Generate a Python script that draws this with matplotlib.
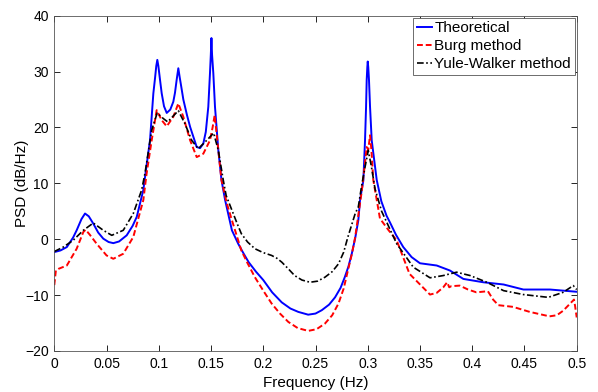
import matplotlib
matplotlib.use("Agg")
import matplotlib.pyplot as plt

plt.rcParams['font.family'] = ['Liberation Sans', 'DejaVu Sans']

theo_f = [0.000, 0.006, 0.012, 0.018, 0.0214, 0.026, 0.0294, 0.033, 0.0373, 0.042,
          0.0469, 0.052, 0.0565, 0.062, 0.0693, 0.075, 0.0789, 0.0852, 0.0868, 0.0916,
          0.0948, 0.0964, 0.0976, 0.0986, 0.0996, 0.1012, 0.1028, 0.105, 0.1076, 0.111,
          0.1139, 0.1155, 0.1171, 0.1187, 0.1200, 0.1216, 0.1235, 0.127, 0.130, 0.1363,
          0.1395, 0.1426, 0.145, 0.1474, 0.1490, 0.1498, 0.1504, 0.1510, 0.1522, 0.1538,
          0.157, 0.160, 0.1635, 0.170, 0.176, 0.181, 0.186, 0.193, 0.200, 0.2085,
          0.2177, 0.226, 0.2335, 0.243, 0.250, 0.256, 0.263, 0.2687, 0.274, 0.278,
          0.2815, 0.2847, 0.288, 0.291, 0.2926, 0.2958, 0.2974, 0.2984, 0.2990, 0.2996,
          0.300, 0.3005, 0.3012, 0.3022, 0.3038, 0.3086, 0.313, 0.318, 0.3213, 0.327,
          0.334, 0.342, 0.350, 0.366, 0.3787, 0.3915, 0.4106, 0.430, 0.449, 0.4744,
          0.500]
theo_v = [-2.3, -2.0, -1.4, 0.3, 1.6, 3.6, 4.6, 4.1, 2.8, 1.2,
          0.1, -0.5, -0.7, -0.4, 0.7, 2.4, 4.0, 8.8, 11.1, 17.7,
          26.1, 28.8, 31.0, 32.1, 31.0, 28.5, 26.1, 23.8, 22.6, 23.2,
          24.6, 26.2, 28.5, 30.6, 29.0, 27.2, 25.0, 22.2, 20.1, 16.5,
          16.3, 17.1, 19.2, 23.7, 29.7, 33.0, 36.0, 33.0, 29.7, 23.7,
          15.9, 10.6, 7.0, 1.6, -0.8, -2.5, -4.1, -5.8, -7.3, -9.5,
          -11.3, -12.4, -13.0, -13.5, -13.3, -12.7, -11.7, -10.4, -8.7, -6.8,
          -4.9, -2.6, 0.2, 3.4, 7.0, 10.5, 17.7, 23.7, 28.5, 30.8,
          31.8, 30.8, 28.5, 23.7, 17.7, 10.6, 6.8, 4.2, 3.0, 0.8,
          -1.4, -3.2, -4.3, -4.7, -5.6, -7.1, -7.7, -8.1, -9.0, -9.0,
          -9.4]

burg_f = [0.000, 0.0015, 0.004, 0.012, 0.0214, 0.0278, 0.030, 0.034, 0.0405, 0.050,
          0.0565, 0.066, 0.0756, 0.0852, 0.0884, 0.0932, 0.098, 0.1028, 0.1076, 0.1139,
          0.1187, 0.1235, 0.130, 0.1363, 0.1426, 0.149, 0.1515, 0.1535, 0.156, 0.160,
          0.165, 0.170, 0.175, 0.179, 0.185, 0.192, 0.200, 0.208, 0.216, 0.224,
          0.233, 0.243, 0.251, 0.259, 0.266, 0.272, 0.277, 0.281, 0.285, 0.288,
          0.2942, 0.297, 0.299, 0.3005, 0.3022, 0.3035, 0.3053, 0.3117, 0.320, 0.3277,
          0.340, 0.3596, 0.366, 0.3723, 0.376, 0.378, 0.380, 0.388, 0.396, 0.404,
          0.415, 0.420, 0.425, 0.439, 0.455, 0.474, 0.481, 0.487, 0.4974, 0.4985,
          0.500]
burg_v = [-8.2, -5.6, -5.3, -4.7, -1.7, 1.3, 1.7, 0.8, -0.8, -2.9,
          -3.5, -2.6, 0.4, 7.0, 11.8, 17.7, 23.1, 21.3, 20.2, 21.9,
          24.3, 21.9, 17.7, 14.7, 15.3, 17.7, 20.0, 22.2, 17.7, 10.6,
          6.5, 3.4, 0.4, -2.0, -4.3, -6.8, -9.2, -11.5, -13.3, -14.8,
          -15.9, -16.4, -16.1, -15.1, -13.6, -11.5, -8.8, -5.6, -2.5, 0.4,
          8.5, 13.0, 16.5, 16.0, 18.6, 16.0, 10.6, 3.7, 1.6, -0.2,
          -6.2, -9.9, -9.6, -8.6, -7.7, -8.6, -8.4, -8.3, -9.0, -9.5,
          -9.3, -10.8, -11.8, -12.1, -13.0, -13.8, -13.6, -12.8, -10.8, -12.0,
          -14.0]

yw_f = [0.000, 0.0086, 0.018, 0.0278, 0.0373, 0.0469, 0.055, 0.066, 0.0756, 0.0836,
        0.0868, 0.0932, 0.0985, 0.1043, 0.1085, 0.1187, 0.125, 0.1315, 0.1378, 0.1459,
        0.1525, 0.157, 0.1617, 0.1645, 0.170, 0.175, 0.179, 0.185, 0.192, 0.200,
        0.208, 0.213, 0.2177, 0.224, 0.230, 0.237, 0.2447, 0.252, 0.259, 0.266,
        0.272, 0.277, 0.281, 0.288, 0.291, 0.294, 0.2975, 0.3005, 0.3035, 0.307,
        0.3133, 0.3277, 0.3436, 0.3596, 0.3723, 0.385, 0.398, 0.414, 0.430, 0.449,
        0.4728, 0.487, 0.4967, 0.500]
yw_v = [-2.2, -1.4, -0.2, 1.6, 2.9, 1.6, 0.7, 1.6, 4.6, 8.8,
        11.8, 19.5, 22.6, 21.6, 21.0, 23.0, 20.7, 17.7, 16.2, 17.7,
        19.0, 15.9, 10.6, 7.8, 5.2, 2.8, 1.0, -0.5, -1.7, -2.4,
        -2.9, -3.4, -4.1, -5.3, -6.5, -7.3, -7.7, -7.5, -6.8, -5.8,
        -4.4, -2.3, 0.4, 4.6, 5.8, 9.4, 13.0, 15.9, 13.0, 9.0,
        5.0, -0.8, -5.0, -6.9, -6.5, -5.9, -6.5, -7.7, -9.2, -9.9,
        -10.4, -9.5, -8.3, -9.0]

labels = ['Theoretical', 'Burg method', 'Yule-Walker method']
xticks = [0, 0.05, 0.1, 0.15, 0.2, 0.25, 0.3, 0.35, 0.4, 0.45, 0.5]
xticklabels = ['0', '0.05', '0.1', '0.15', '0.2', '0.25', '0.3', '0.35', '0.4', '0.45', '0.5']
yticks = [-20, -10, 0, 10, 20, 30, 40]

fig = plt.figure(figsize=(5.98, 3.92), dpi=100)
ax = fig.add_axes([54.3 / 598, 1 - 351 / 392, (576.7 - 54.3) / 598, (351 - 15.7) / 392])

ax.plot(theo_f, theo_v, color='#0000ff', lw=1.4, label=labels[0])
ax.plot(burg_f, burg_v, color='#ff0000', lw=1.4, ls=(0, (3, 1.5)), label=labels[1])
ax.plot(yw_f, yw_v, color='black', lw=1.2, ls=(0, (4, 1.5, 1, 1.5)), label=labels[2])

ax.set_xlim(0, 0.5)
ax.set_ylim(-20, 40)
ax.set_xticks(xticks)
ax.set_xticklabels(xticklabels)
ax.set_yticks(yticks)
ax.tick_params(direction='in', top=True, right=True, length=4, width=0.6,
               labelsize=10, pad=4, colors='black')
for s in ax.spines.values():
    s.set_linewidth(0.6)
    s.set_color('#555555')

ax.set_xlabel('Frequency (Hz)', fontsize=11, labelpad=4)
ax.set_ylabel('PSD (dB/Hz)', fontsize=11, labelpad=-3)

leg = ax.legend(loc='upper right', fontsize=11, handlelength=1.0, handletextpad=0.15,
                labelspacing=0.25, borderpad=0.25, borderaxespad=0.12, fancybox=False,
                framealpha=1)
leg.get_frame().set_edgecolor('#555555')
leg.get_frame().set_linewidth(0.6)

fig.savefig('out.png', dpi=100)
